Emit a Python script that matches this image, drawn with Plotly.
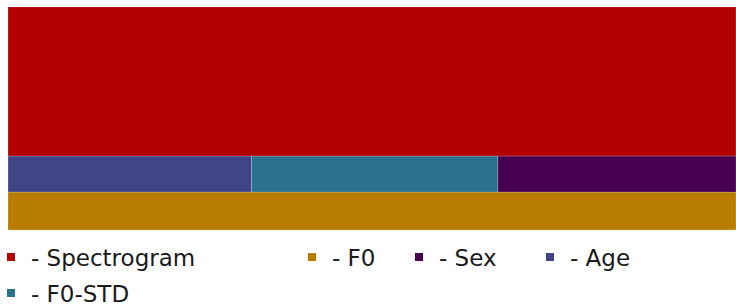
import plotly.graph_objects as go

# ---- data ----
features = ["Spectrogram", "F0", "Sex", "Age", "F0-STD"]
importance = [66.8, 17.0, 5.3, 5.42, 5.48]
colors = ["#b30000", "#b87c00", "#46004f", "#414487", "#2b728f"]
# tile rows, top to bottom
rows = [["Spectrogram"], ["Age", "F0-STD", "Sex"], ["F0"]]
legend_labels = ["- Spectrogram", "- F0", "- Sex", "- Age", "- F0-STD"]

val = dict(zip(features, importance))
col = dict(zip(features, colors))
total = sum(importance)

fig = go.Figure()

# compute tile geometry from the values (rows stacked bottom-up)
base = 0.0
for row in reversed(rows):
    rsum = sum(val[f] for f in row)
    h = rsum / total
    x0 = 0.0
    for f in row:
        w = val[f] / rsum
        fig.add_trace(go.Bar(
            x=[x0 + w / 2], y=[h], base=[base], width=[w],
            marker=dict(color=col[f], line=dict(color="rgba(255,255,255,0.35)", width=0.6)),
            showlegend=False, hoverinfo="skip", name=f,
        ))
        x0 += w
    base += h

# legend entries (one legend each, positioned like the reference)
W, H = 736, 305
ML, MT, MB = 8, 7, 75
PW, PH = W - ML, H - MT - MB
legend_pos = {  # (legend left px, row center px)
    "Spectrogram": (6, 257),
    "F0": (307, 257),
    "Sex": (414, 257),
    "Age": (545, 257),
    "F0-STD": (6, 293),
}
layout_legends = {}
for i, (f, lab) in enumerate(zip(features, legend_labels)):
    key = "legend" if i == 0 else f"legend{i+1}"
    fig.add_trace(go.Scatter(
        x=[None], y=[None], mode="markers", name=lab,
        marker=dict(symbol="square", size=8, color=col[f]),
        legend=key, showlegend=True, xaxis="x2", yaxis="y2",
    ))
    lx, ly = legend_pos[f]
    layout_legends[key] = dict(
        xref="paper", yref="paper",
        x=(lx - ML) / PW, y=(H - MB - ly) / PH, xanchor="left", yanchor="middle",
        indentation=-15,
        bgcolor="rgba(0,0,0,0)", borderwidth=0,
        font=dict(family="DejaVu Sans", size=23, color="#1a1a1a"),
    )

fig.update_layout(
    width=W, height=H, autosize=False,
    margin=dict(l=ML, r=0, t=MT, b=MB, autoexpand=False),
    paper_bgcolor="white", plot_bgcolor="white",
    barmode="overlay",
    xaxis=dict(visible=False, type="linear", range=[0, 1], autorange=False, fixedrange=True),
    yaxis=dict(visible=False, type="linear", range=[0, 1], autorange=False, fixedrange=True),
    xaxis2=dict(visible=False, overlaying="x", range=[0, 1], fixedrange=True),
    yaxis2=dict(visible=False, overlaying="y", range=[0, 1], fixedrange=True),
    **layout_legends,
)

fig.write_html(
    "out.html",
    config={"displayModeBar": False},
    post_script="document.body.style.margin='0';"
                "Plotly.relayout('{plot_id}', {width: 736, height: 305});",
)
